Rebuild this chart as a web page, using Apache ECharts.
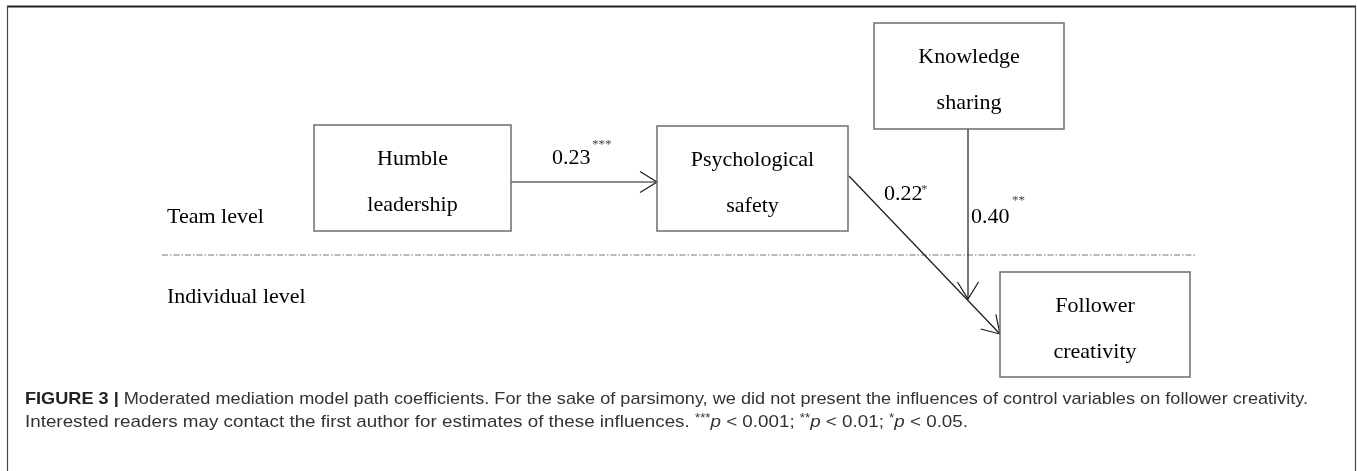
<!DOCTYPE html>
<html>
<head>
<meta charset="utf-8">
<script src="https://cdn.jsdelivr.net/npm/echarts@6/dist/echarts.min.js"></script>
<style>
html,body{margin:0;padding:0;background:#fff;}
#chart{width:1357px;height:471px;}
</style>
</head>
<body>
<div id="chart"></div>
<script>
// ---- data ----
const nodeLabels = [
  ['Humble', 'leadership'],
  ['Psychological', 'safety'],
  ['Knowledge', 'sharing'],
  ['Follower', 'creativity']
];
const pathCoefficients = [0.23, 0.22, 0.40];
const pathStars = ['***', '*', '**'];
const levelLabels = ['Team level', 'Individual level'];
const captionBold = 'FIGURE 3 |';
const captionLine1 = ' Moderated mediation model path coefficients. For the sake of parsimony, we did not present the influences of control variables on follower creativity.';
const captionLine2Parts = ['Interested readers may contact the first author for estimates of these influences. ', '***', 'p', ' < 0.001; ', '**', 'p', ' < 0.01; ', '*', 'p', ' < 0.05.'];

// ---- layout (diagram units = pixels of a 1357x471 canvas) ----
const layout = {
  boxes: [
    {x0: 314, y0: 125, x1: 511, y1: 231},
    {x0: 657, y0: 126, x1: 848, y1: 231},
    {x0: 874, y0: 23, x1: 1064, y1: 129},
    {x0: 1000, y0: 272, x1: 1190, y1: 377}
  ],
  paths: [
    {from: [511, 182], to: [657, 182]},
    {from: [849, 176], to: [1000, 334]},
    {from: [968, 129], to: [968, 299]}
  ],
  coef: [
    {x: 552, y: 158, sx: 592, sy: 145},
    {x: 884, y: 194, sx: 921, sy: 190},
    {x: 971, y: 217, sx: 1012, sy: 201}
  ],
  levels: [{x: 167, y: 217}, {x: 167, y: 297}],
  divider: {x0: 162, x1: 1196, y: 255},
  caption: {x: 25, y1: 399, y2: 422, width1: 1283, width2: 943}
};

const serif = '"Liberation Serif", "Times New Roman", serif';
const sans = '"Liberation Sans", Arial, Helvetica, sans-serif';
const capSize = 17, starSize = 12;

// measure caption to get the condensed look of the original
const cv = document.createElement('canvas').getContext('2d');
function tw(font, t) { cv.font = font; return cv.measureText(t).width; }
const w1 = tw('bold ' + capSize + 'px ' + sans, captionBold) + tw(capSize + 'px ' + sans, captionLine1);
let w2 = 0;
captionLine2Parts.forEach(function (t) {
  if (/^\*+$/.test(t)) w2 += tw(starSize + 'px ' + sans, t);
  else if (t === 'p') w2 += tw('italic ' + capSize + 'px ' + sans, t);
  else w2 += tw(capSize + 'px ' + sans, t);
});
const capScale1 = layout.caption.width1 / w1;
const capScale2 = layout.caption.width2 / w2;

const chart = echarts.init(document.getElementById('chart'), null, {renderer: 'canvas'});

function boxItem(params, api) {
  const i = api.value(0);
  const b = layout.boxes[i];
  const p0 = api.coord([b.x0, b.y0]);
  const p1 = api.coord([b.x1, b.y1]);
  const cx = (p0[0] + p1[0]) / 2;
  const l1 = api.coord([b.x0, b.y0 + 34])[1];
  const l2 = api.coord([b.x0, b.y0 + 80])[1];
  return {
    type: 'group',
    children: [
      {type: 'rect', shape: {x: p0[0], y: p0[1], width: p1[0] - p0[0], height: p1[1] - p0[1]},
       style: {fill: '#fff', stroke: '#6e6e6e', lineWidth: 1.5}},
      {type: 'text', style: {text: nodeLabels[i][0], x: cx, y: l1, font: '22px ' + serif, fill: '#000', textAlign: 'center', textVerticalAlign: 'middle'}},
      {type: 'text', style: {text: nodeLabels[i][1], x: cx, y: l2, font: '22px ' + serif, fill: '#000', textAlign: 'center', textVerticalAlign: 'middle'}}
    ]
  };
}

function pathItem(params, api) {
  const i = api.value(0);
  const p = layout.paths[i];
  const a = api.coord(p.from);
  const t = api.coord(p.to);
  const dx = t[0] - a[0], dy = t[1] - a[1];
  const len = Math.sqrt(dx * dx + dy * dy);
  const ux = dx / len, uy = dy / len;
  const nx = -uy, ny = ux;
  const L = 17, Wd = 10.5;
  const wa = [t[0] - L * ux + Wd * nx, t[1] - L * uy + Wd * ny];
  const wb = [t[0] - L * ux - Wd * nx, t[1] - L * uy - Wd * ny];
  const st = {stroke: '#1a1a1a', lineWidth: 1.2, fill: null};
  return {
    type: 'group',
    children: [
      {type: 'line', shape: {x1: a[0], y1: a[1], x2: t[0], y2: t[1]}, style: st},
      {type: 'polyline', shape: {points: [wa, t, wb]}, style: st}
    ]
  };
}

function coefItem(params, api) {
  const i = api.value(0);
  const c = layout.coef[i];
  const p = api.coord([c.x, c.y]);
  const s = api.coord([c.sx, c.sy]);
  return {
    type: 'group',
    children: [
      {type: 'text', style: {text: pathCoefficients[i].toFixed(2), x: p[0], y: p[1], font: '22px ' + serif, fill: '#000', textAlign: 'left', textVerticalAlign: 'middle'}},
      {type: 'text', style: {text: pathStars[i], x: s[0], y: s[1], font: '13px ' + serif, fill: '#444', textAlign: 'left', textVerticalAlign: 'middle'}}
    ]
  };
}

function levelItem(params, api) {
  const i = api.value(0);
  const l = layout.levels[i];
  const p = api.coord([l.x, l.y]);
  return {type: 'text', style: {text: levelLabels[i], x: p[0], y: p[1], font: '22px ' + serif, fill: '#000', textAlign: 'left', textVerticalAlign: 'middle'}};
}

function dividerItem(params, api) {
  const d = layout.divider;
  const a = api.coord([d.x0, d.y]);
  const b = api.coord([d.x1, d.y]);
  return {type: 'line', shape: {x1: a[0], y1: a[1], x2: b[0], y2: b[1]},
          style: {stroke: '#a3a3a3', lineWidth: 1.5, lineDash: [6, 2, 1.5, 2]}};
}

function captionItem(params, api) {
  const c = layout.caption;
  const p1 = api.coord([c.x, c.y1]);
  const p2 = api.coord([c.x, c.y2]);
  const line2 = captionLine2Parts.map(function (t) {
    if (/^\*+$/.test(t)) return '{s|' + t + '}';
    if (t === 'p') return '{i|p}';
    return '{r|' + t + '}';
  }).join('');
  const rich = {
    b: {fontFamily: sans, fontSize: capSize, fontWeight: 'bold', fill: '#222'},
    r: {fontFamily: sans, fontSize: capSize, fill: '#333'},
    i: {fontFamily: sans, fontSize: capSize, fontStyle: 'italic', fill: '#333'},
    s: {fontFamily: sans, fontSize: starSize, fill: '#333', verticalAlign: 'top', padding: [0, 0, 6, 0]}
  };
  return {
    type: 'group',
    children: [
      {type: 'text', x: p1[0], y: p1[1], scaleX: capScale1,
       style: {text: '{b|' + captionBold + '}{r|' + captionLine1 + '}', x: 0, y: 0, rich: rich, textAlign: 'left', textVerticalAlign: 'middle'}},
      {type: 'text', x: p2[0], y: p2[1], scaleX: capScale2,
       style: {text: line2, x: 0, y: 0, rich: rich, textAlign: 'left', textVerticalAlign: 'middle'}}
    ]
  };
}

const idx = function (arr) { return arr.map(function (_, i) { return [i, 0]; }); };

chart.setOption({
  backgroundColor: '#fff',
  animation: false,
  grid: {left: 0, right: 0, top: 0, bottom: 0},
  xAxis: {type: 'value', min: 0, max: 1357, show: false},
  yAxis: {type: 'value', min: 0, max: 471, inverse: true, show: false},
  graphic: [
    {type: 'line', shape: {x1: 7, y1: 6.5, x2: 1356, y2: 6.5}, style: {stroke: '#222', lineWidth: 2}},
    {type: 'line', shape: {x1: 7.5, y1: 6, x2: 7.5, y2: 471}, style: {stroke: '#444', lineWidth: 1.2}},
    {type: 'line', shape: {x1: 1355.5, y1: 6, x2: 1355.5, y2: 471}, style: {stroke: '#444', lineWidth: 1.2}}
  ],
  series: [
    {type: 'custom', name: 'divider', clip: false, data: [[0, 0]], renderItem: dividerItem, silent: true},
    {type: 'custom', name: 'paths', clip: false, data: idx(layout.paths), renderItem: pathItem, silent: true},
    {type: 'custom', name: 'boxes', clip: false, data: idx(nodeLabels), renderItem: boxItem, silent: true},
    {type: 'custom', name: 'coefficients', clip: false, data: idx(pathCoefficients), renderItem: coefItem, silent: true},
    {type: 'custom', name: 'levels', clip: false, data: idx(levelLabels), renderItem: levelItem, silent: true},
    {type: 'custom', name: 'caption', clip: false, data: [[0, 0]], renderItem: captionItem, silent: true}
  ]
});
</script>
</body>
</html>
